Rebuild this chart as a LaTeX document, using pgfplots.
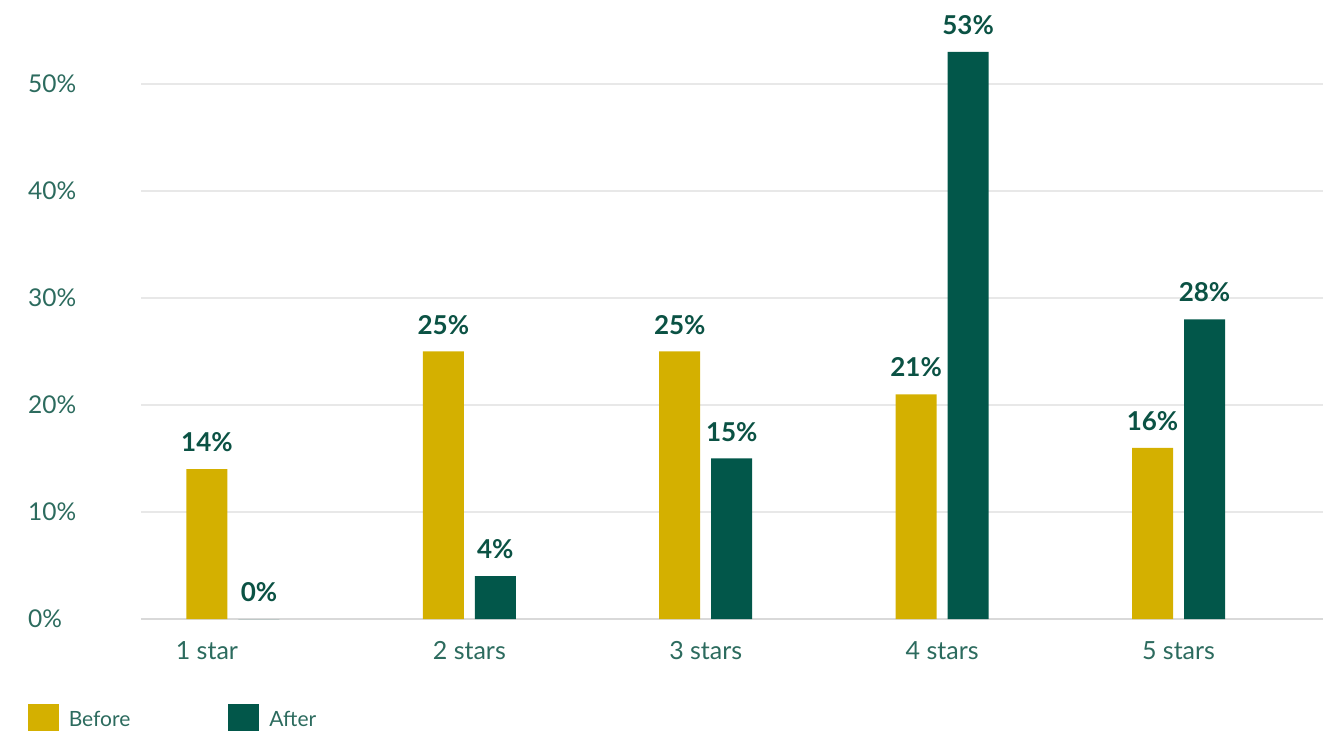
\documentclass[border=0pt]{standalone}
\usepackage{pgfplots}
\pgfplotsset{compat=1.18}
\usepackage{fontspec}
\setmainfont{Lato}
\definecolor{gold}{HTML}{D4B000}
\definecolor{dgreen}{HTML}{02574A}
\definecolor{ticktext}{HTML}{2C6B5E}
\definecolor{labtext}{HTML}{0B5244}
\definecolor{gridc}{HTML}{E8E8E8}
\definecolor{basec}{HTML}{D9D9D9}
\begin{document}
\begin{tikzpicture}
\useasboundingbox (0,0) rectangle (1339pt,731pt);
\begin{axis}[
  at={(141pt,112pt)}, anchor=south west,
  scale only axis, width=1182pt, height=588.5pt,
  xmin=-0.389, xmax=4.611, ymin=0, ymax=55,
  clip=false,
  axis line style={draw=none},
  tick style={draw=none},
  ytick={0,10,20,30,40,50},
  ymajorgrids,
  grid style={gridc, line width=2pt},
  extra y ticks={0}, extra y tick labels={},
  extra y tick style={grid style={basec, line width=2.5pt}},
  /pgf/number format/assume math mode=true,
  yticklabel={\pgfmathprintnumber{\tick}\%},
  yticklabel style={anchor=west, inner sep=0pt, xshift=-113pt, font=\fontsize{24.5}{28}\selectfont, text=ticktext},
  xtick={-0.11,1,2,3,4},
  xticklabels={1 star,2 stars,3 stars,4 stars,5 stars},
  xticklabel style={anchor=north, inner sep=0pt, yshift=-18pt, font=\fontsize{25}{28}\selectfont, text=ticktext},
  ybar, bar width=41pt,
  legend image code/.code={\fill[#1] (0pt,-15.5pt) rectangle (31pt,15.5pt);},
  nodes near coords={\pgfmathprintnumber{\pgfplotspointmeta}\%},
  every node near coord/.append style={anchor=south, inner sep=0pt, yshift=17pt, font=\fontsize{26}{29}\selectfont\bfseries, text=labtext},
  legend style={draw=none, fill=none, at={(-0.0985,-0.1716)}, anchor=west, legend columns=2,
    nodes={inner sep=0pt}, column sep=10pt,
    /tikz/every even column/.append style={column sep=98pt},
    font=\fontsize{21}{24}\selectfont, text=ticktext},
]
\addplot[fill=gold, draw=none, bar shift=-26pt] coordinates {(0,14) (1,25) (2,25) (3,21) (4,16)};
\addplot[fill=dgreen, draw=none, bar shift=26pt] coordinates {(0,0) (1,4) (2,15) (3,53) (4,28)};
\legend{Before, After}
\end{axis}
\end{tikzpicture}
\end{document}
